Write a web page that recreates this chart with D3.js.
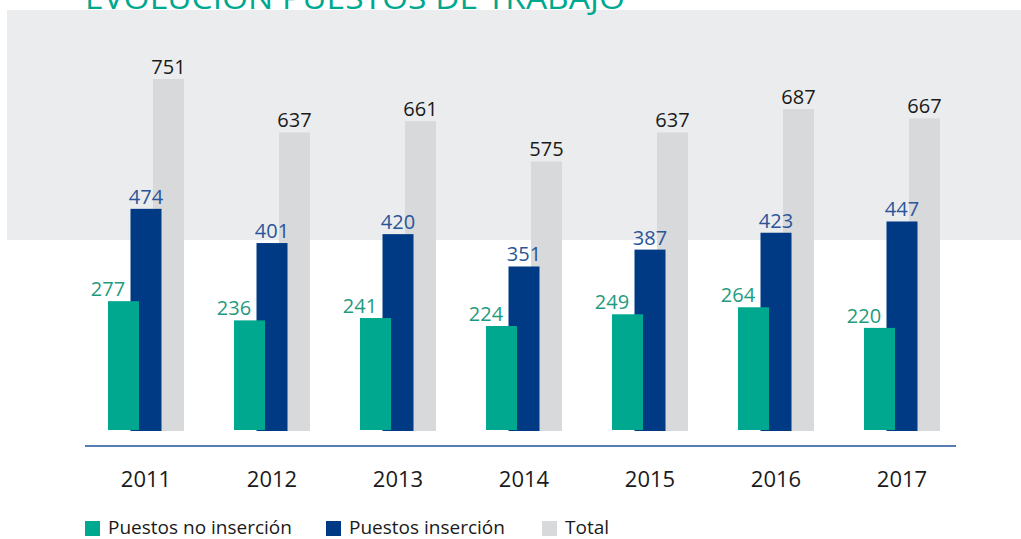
<!DOCTYPE html>
<html>
<head>
<meta charset="utf-8">
<script src="https://cdnjs.cloudflare.com/ajax/libs/d3/7.8.5/d3.min.js"></script>
<style>
  body { margin: 0; background: #fff; }
  svg text { font-family: "Open Sans", "Noto Sans", sans-serif; }
</style>
</head>
<body>
<script>
// Chart data
var years = ["2011", "2012", "2013", "2014", "2015", "2016", "2017"];
var noInsercion = [277, 236, 241, 224, 249, 264, 220];
var insercion = [474, 401, 420, 351, 387, 423, 447];
var total = [751, 637, 661, 575, 637, 687, 667];
var seriesNames = ["Puestos no inserción", "Puestos inserción", "Total"];
var seriesColors = ["#00a88f", "#003a84", "#d8d9db"];
var labelColors = ["#1f9a80", "#2a5599", "#1a1a1a"];

var svgWidth = 1021;
var svgHeight = 539;

var svg = d3.select("body")
  .append("svg")
  .attr("width", svgWidth)
  .attr("height", svgHeight);

// light gray panel behind the upper part
svg.append("rect")
  .attr("x", 7)
  .attr("y", 10)
  .attr("width", svgWidth - 7)
  .attr("height", 230)
  .attr("fill", "#ebeced");

// title (cut off at the top)
svg.append("text")
  .attr("x", 85)
  .attr("y", 9)
  .attr("fill", "#00a88f")
  .attr("font-size", "31px")
  .attr("textLength", 540)
  .attr("lengthAdjust", "spacingAndGlyphs")
  .text("EVOLUCIÓN PUESTOS DE TRABAJO");

// scales
var xScale = d3.scaleBand()
  .domain(years)
  .range([83, 965])
  .paddingInner(50 / 126)
  .paddingOuter(25 / 126);

var xSeries = d3.scalePoint()
  .domain(seriesNames)
  .range([0, 45]);

var barWidth = 31;

var yScale = d3.scaleLinear()
  .domain([0, 751])
  .range([431, 79]);

// rows for drawing
var rows = years.map(function (y, i) {
  return { year: y, values: [noInsercion[i], insercion[i], total[i]] };
});

// draw back to front: total, insercion, no insercion
[2, 1, 0].forEach(function (s) {
  var g = svg.append("g").attr("class", "series-" + s);

  g.selectAll("rect")
    .data(rows)
    .enter()
    .append("rect")
    .attr("x", function (d) { return xScale(d.year) + xSeries(seriesNames[s]); })
    .attr("y", function (d) { return yScale(d.values[s]); })
    .attr("width", barWidth)
    .attr("height", function (d) { return yScale(0) - yScale(d.values[s]) - (s === 0 ? 1 : 0); })
    .attr("fill", seriesColors[s]);
});

// value labels
[2, 1, 0].forEach(function (s) {
  svg.append("g")
    .selectAll("text")
    .data(rows)
    .enter()
    .append("text")
    .attr("x", function (d) {
      var bx = xScale(d.year) + xSeries(seriesNames[s]);
      return s === 0 ? bx : bx + barWidth / 2;
    })
    .attr("y", function (d) { return yScale(d.values[s]) - 5; })
    .attr("text-anchor", "middle")
    .attr("font-size", "20px")
    .attr("fill", labelColors[s])
    .text(function (d) { return d.values[s]; });
});

// baseline
svg.append("line")
  .attr("x1", 85)
  .attr("x2", 956)
  .attr("y1", 446)
  .attr("y2", 446)
  .attr("stroke", "#1f4f9a")
  .attr("stroke-width", 1.5);

// x-axis labels
var xAxis = d3.axisBottom(xScale).tickSize(0).tickPadding(0);
var axisG = svg.append("g")
  .attr("transform", "translate(0,471)")
  .call(xAxis);
axisG.select(".domain").remove();
axisG.selectAll("text")
  .attr("font-size", "22px")
  .attr("fill", "#1a1a1a")
  .attr("font-family", "Open Sans, sans-serif")
  .attr("dy", "0.71em");

// legend
var legendX = [85, 326, 542];
var legend = svg.append("g");
seriesNames.forEach(function (name, i) {
  legend.append("rect")
    .attr("x", legendX[i])
    .attr("y", 521)
    .attr("width", 15)
    .attr("height", 15)
    .attr("fill", seriesColors[i]);
  legend.append("text")
    .attr("x", legendX[i] + 23)
    .attr("y", 534)
    .attr("font-size", "19px")
    .attr("fill", "#1a1a1a")
    .text(name);
});
</script>
</body>
</html>
